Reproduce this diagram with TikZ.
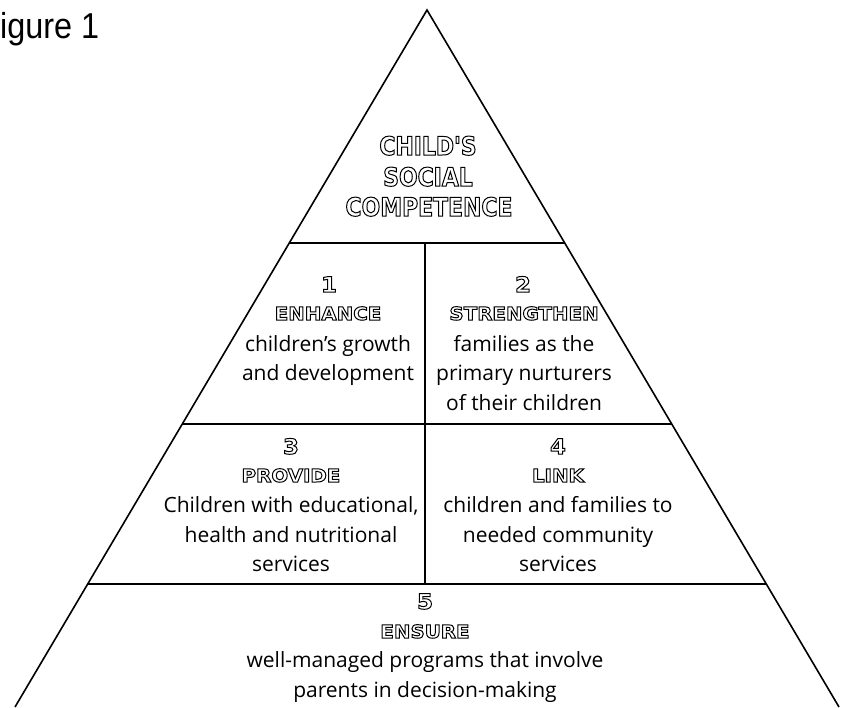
\documentclass[tikz,border=0pt]{standalone}
\usepackage{fontspec}
\setmainfont{Open Sans}
\newfontfamily\hdrbig{DejaVu Sans}[FakeStretch=0.86]
\newfontfamily\hdrsmall{DejaVu Sans}[FakeStretch=1.1]
\newfontfamily\figfont{Liberation Sans}[FakeStretch=0.9]
\usetikzlibrary{calc}
\newcommand\outl[1]{\special{pdf:literal direct 1 Tr 1 w}#1\special{pdf:literal direct 0 Tr}}
\tikzset{
  pyr/.style={line width=1.6pt, line join=miter},
  body/.style={anchor=base, inner sep=0pt, font=\fontsize{21}{25}\selectfont},
  hsm/.style={anchor=base, inner sep=0pt, font=\hdrsmall\bfseries\fontsize{18}{20}\selectfont},
  hnum/.style={anchor=base, inner sep=0pt, font=\hdrsmall\bfseries\fontsize{21}{22}\selectfont},
  hbig/.style={anchor=base, inner sep=0pt, font=\hdrbig\bfseries\fontsize{25.5}{28}\selectfont},
}
\begin{document}
\begin{tikzpicture}[x=1pt,y=-1pt]
\useasboundingbox (0,0) rectangle (842,707);
% title
\node[anchor=base west, inner sep=0pt, font=\figfont\fontsize{36}{40}\selectfont] (fig) at (0,38) {igure 1};
% pyramid
\coordinate (A) at (427,10);
\coordinate (BL) at (15,707);
\coordinate (BR) at (839,707);
\coordinate (L1) at ($(A)!0.3343!(BL)$);
\coordinate (R1) at ($(A)!0.3343!(BR)$);
\coordinate (L2) at ($(A)!0.5940!(BL)$);
\coordinate (R2) at ($(A)!0.5940!(BR)$);
\coordinate (L3) at ($(A)!0.8235!(BL)$);
\coordinate (R3) at ($(A)!0.8235!(BR)$);
\coordinate (V1) at (425,243);
\coordinate (V2) at (425,584);
\draw[pyr] (BL) -- (A) -- (BR);
\draw[pyr] (L1) -- (R1);
\draw[pyr] (L2) -- (R2);
\draw[pyr] (L3) -- (R3);
\draw[pyr] (V1) -- (V2);
% top
\node[hbig] (t0a) at (428,155) {\outl{CHILD'S}};
\node[hbig] (t0b) at (428,186) {\outl{SOCIAL}};
\node[hbig] (t0c) at (429,216) {\outl{COMPETENCE}};
% box 1
\node[hnum] (n1) at (329,292) {\outl{1}};
\node[hsm] (h1) at (328,320) {\outl{ENHANCE}};
\node[body] (b1a) at (328,351) {children's growth};
\node[body] (b1b) at (328,380) {and development};
% box 2
\node[hnum] (n2) at (523,292) {\outl{2}};
\node[hsm] (h2) at (524,320) {\outl{STRENGTHEN}};
\node[body] (b2a) at (524,351) {families as the};
\node[body] (b2b) at (524,380) {primary nurturers};
\node[body] (b2c) at (524,410) {of their children};
% box 3
\node[hnum] (n3) at (291,454) {\outl{3}};
\node[hsm] (h3) at (291,482) {\outl{PROVIDE}};
\node[body] (b3a) at (291,512) {Children with educational,};
\node[body] (b3b) at (291,542) {health and nutritional};
\node[body] (b3c) at (291,571) {services};
% box 4
\node[hnum] (n4) at (558,454) {\outl{4}};
\node[hsm] (h4) at (558,482) {\outl{LINK}};
\node[body] (b4a) at (558,512) {children and families to};
\node[body] (b4b) at (558,542) {needed community};
\node[body] (b4c) at (558,571) {services};
% box 5
\node[hnum] (n5) at (425,609) {\outl{5}};
\node[hsm] (h5) at (425,638) {\outl{ENSURE}};
\node[body] (b5a) at (425,667) {well-managed programs that involve};
\node[body] (b5b) at (425,697) {parents in decision-making};
\end{tikzpicture}
\end{document}
